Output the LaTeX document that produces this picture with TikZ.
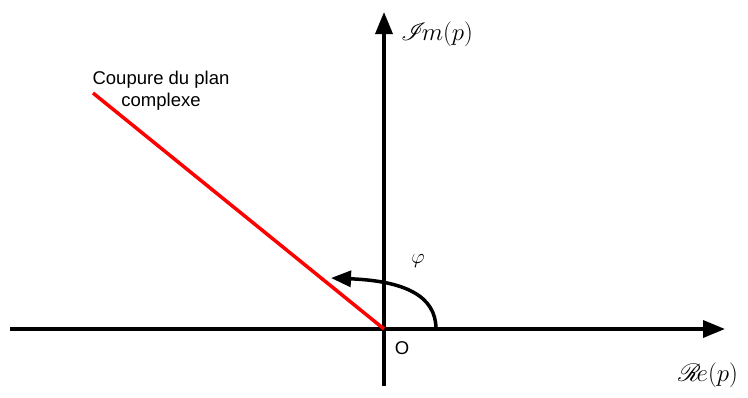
\documentclass[tikz,border=0pt]{standalone}
\usepackage{fontspec}
\usepackage{mathrsfs}
\setmainfont{Liberation Sans}
\usetikzlibrary{arrows.meta}
\begin{document}
\begin{tikzpicture}[x=1pt,y=-1pt,
  axis/.style={line width=3.5pt,-{Triangle[length=22pt,width=17pt]}},
  cut/.style={line width=3.5pt,red},
  anglearc/.style={line width=3.5pt,-{Triangle[length=20pt,width=16pt]}},
  lbl/.style={font=\fontsize{18.5}{22}\selectfont,inner sep=0pt,align=center},
  sym/.style={font=\fontsize{28}{30}\selectfont,inner sep=0pt}]
\useasboundingbox (0,0) rectangle (748,397);
\coordinate (O) at (384,329);
\coordinate (xl) at (10,329);
\coordinate (xr) at (725,329);
\coordinate (yb) at (384,386);
\coordinate (yt) at (384,12);
\coordinate (cutend) at (93,93);
\coordinate (arcs) at (436,329);
\coordinate (arce) at (331,278);
\draw[axis] (xl) -- (xr);
\draw[axis] (yb) -- (yt);
\draw[cut] (O) -- (cutend);
\draw[anglearc] (arcs) .. controls (436,296) and (405,281) .. (arce);
\node[lbl] (cutlbl) at (161,91) {Coupure du plan\\complexe};
\node[sym] (im) at (437,34) {$\mathscr{I}\!m(p)$};
\node[sym] (re) at (708,375) {$\mathscr{R}\!e(p)$};
\node[font=\fontsize{22}{24}\selectfont,inner sep=0pt] (phi) at (418,261) {$\varphi$};
\node[lbl] (olbl) at (402,348) {O};
\end{tikzpicture}
\end{document}
